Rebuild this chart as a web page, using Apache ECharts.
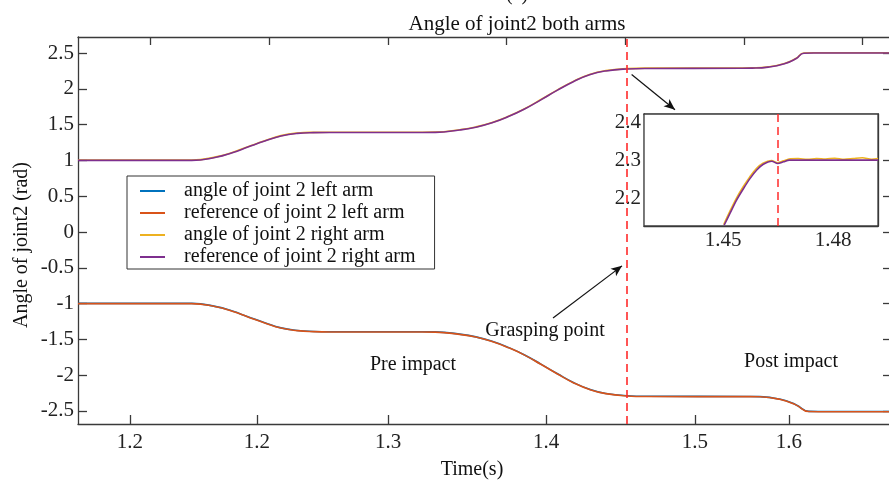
<!DOCTYPE html>
<html>
<head>
<meta charset="utf-8">
<script src="https://cdn.jsdelivr.net/npm/echarts@6/dist/echarts.min.js"></script>
<style>
  html, body { margin: 0; padding: 0; background: #fff; }
  #main { width: 889px; height: 484px; }
</style>
</head>
<body>
<div id="main"></div>
<script>
// ---- data ----
var seriesNames = ['angle of joint 2 left arm', 'reference of joint 2 left arm',
                   'angle of joint 2 right arm', 'reference of joint 2 right arm'];

var rightTime  = [1.15, 1.212, 1.22, 1.235, 1.245, 1.255, 1.265, 1.275, 1.285, 1.295, 1.305, 1.362, 1.37, 1.385, 1.395, 1.405, 1.415,
                  1.425, 1.435, 1.445, 1.455, 1.465, 1.475, 1.488, 1.5, 1.558, 1.565, 1.575, 1.585, 1.592, 1.597, 1.603, 1.65];
var rightRef   = [1.0, 1.0, 1.0, 1.045, 1.108, 1.19, 1.27, 1.342, 1.378, 1.388, 1.39, 1.39, 1.392, 1.425, 1.464, 1.526, 1.612,
                  1.718, 1.846, 1.978, 2.10, 2.196, 2.25, 2.278, 2.285, 2.287, 2.289, 2.303, 2.35, 2.42, 2.497, 2.5, 2.5];
var rightAngle = [1.004, 1.004, 1.004, 1.049, 1.112, 1.194, 1.274, 1.346, 1.382, 1.392, 1.394, 1.394, 1.396, 1.429, 1.468, 1.53, 1.616,
                  1.722, 1.85, 1.982, 2.104, 2.2, 2.254, 2.282, 2.289, 2.291, 2.293, 2.307, 2.354, 2.424, 2.501, 2.504, 2.504];

var leftTime  = [1.15, 1.212, 1.22, 1.235, 1.245, 1.255, 1.265, 1.275, 1.285, 1.295, 1.305, 1.362, 1.37, 1.385, 1.395, 1.405, 1.415,
                 1.425, 1.435, 1.445, 1.455, 1.465, 1.475, 1.488, 1.5, 1.563, 1.57, 1.582, 1.592, 1.6, 1.606, 1.65];
var leftRef   = [-1.0, -1.0, -1.0, -1.045, -1.108, -1.19, -1.27, -1.342, -1.378, -1.392, -1.396, -1.396, -1.398, -1.43, -1.468, -1.53, -1.615,
                 -1.72, -1.848, -1.98, -2.105, -2.2, -2.258, -2.29, -2.298, -2.3, -2.302, -2.337, -2.415, -2.508, -2.51, -2.51];
var leftAngle = [-0.997, -0.997, -0.997, -1.042, -1.105, -1.187, -1.267, -1.339, -1.375, -1.389, -1.393, -1.393, -1.395, -1.427, -1.465, -1.527, -1.612,
                 -1.717, -1.845, -1.977, -2.102, -2.197, -2.255, -2.287, -2.295, -2.297, -2.299, -2.334, -2.412, -2.505, -2.507, -2.507];

// zoomed inset (right arm only)
var insetTime  = [1.4503, 1.4519, 1.4537, 1.4556, 1.4574, 1.4592, 1.461, 1.4633, 1.4649, 1.4665, 1.4681, 1.4923];
var insetRef   = [2.129, 2.160, 2.195, 2.2255, 2.252, 2.274, 2.289, 2.297, 2.291, 2.2955, 2.30, 2.30];
var insetAngleTime = [1.4502, 1.4518, 1.4536, 1.4555, 1.4573, 1.4591, 1.4609, 1.4632, 1.4649, 1.4665, 1.468,
                      1.4705, 1.473, 1.4755, 1.478, 1.4805, 1.483, 1.4855, 1.488, 1.4905, 1.4923];
var insetAngle = [2.131, 2.164, 2.199, 2.23, 2.256, 2.278, 2.292, 2.299, 2.293, 2.298, 2.303,
                  2.304, 2.302, 2.304, 2.303, 2.305, 2.302, 2.304, 2.306, 2.302, 2.304];

// ticks
var bottomTicks  = [1.182, 1.2602, 1.3409, 1.4382, 1.5299, 1.5878];
var bottomLabels = ['1.2', '1.2', '1.3', '1.4', '1.5', '1.6'];
var topTicks     = [1.1943, 1.2676, 1.3409, 1.4135, 1.4868, 1.5601, 1.6328];
var yTicks       = [-2.5, -2, -1.5, -1, -0.5, 0, 0.5, 1, 1.5, 2, 2.5];
var insetXLabels = [1.45, 1.48];
var insetTopTicks = [1.4324, 1.4401, 1.4478, 1.4556, 1.4633, 1.471, 1.4788, 1.4865];
var insetYTicks  = [2.15, 2.2, 2.25, 2.3, 2.35, 2.4];
var insetYLabels = [2.2, 2.3, 2.4];

// annotations
var graspTime = 1.488;
var insetGraspTime = 1.4649;
var arrowToInset = [1.4909, 2.199, 1.5176, 1.709];
var arrowGrasp   = [1.4425, -1.20, 1.485, -0.473];

function pairs(xs, ys) {
    return xs.map(function (x, i) { return [x, ys[i]]; });
}

var chart = echarts.init(document.getElementById('main'));
var serif = '"Liberation Serif", "Times New Roman", serif';
var axisColor = '#3a3a3a';
var colors = ['#0072BD', '#D95319', '#EDB120', '#7E2F8E'];

function hiddenAxisLabel() { return { show: false }; }

var option = {
    animation: false,
    backgroundColor: '#fff',
    textStyle: { fontFamily: serif },
    title: {
        text: 'Angle of joint2 both arms',
        left: 517, top: 14, textAlign: 'center', padding: 0,
        textStyle: { fontFamily: serif, fontSize: 21, fontWeight: 'normal', color: '#111' }
    },
    legend: {
        orient: 'vertical', left: 127, top: 176,
        data: seriesNames,
        icon: 'rect', itemWidth: 25, itemHeight: 2, itemGap: 0,
        padding: [4, 19, 1, 13],
        borderColor: '#333', borderWidth: 1, backgroundColor: '#fff',
        textStyle: { fontFamily: serif, fontSize: 20, color: '#111', lineHeight: 22, padding: [0, 0, 0, 14] }
    },
    grid: [
        { left: 78, top: 37, right: -1, bottom: 60, outerBoundsMode: 'none' },
        { left: 644, top: 114, width: 234, height: 112, outerBoundsMode: 'none',
          show: true, borderColor: axisColor, borderWidth: 1.3, backgroundColor: '#fff', z: 5 }
    ],
    xAxis: [
        {
            gridIndex: 0, type: 'value', position: 'bottom', min: 1.15, max: 1.65,
            axisLine: { show: true, onZero: false, lineStyle: { color: axisColor, width: 1.3 } },
            axisTick: { show: true, inside: true, length: 9, customValues: bottomTicks, lineStyle: { color: axisColor, width: 1.3 } },
            axisLabel: {
                customValues: bottomTicks, margin: 8, fontSize: 21, fontFamily: serif, color: '#222',
                formatter: function (v) {
                    var best = 0;
                    for (var i = 1; i < bottomTicks.length; i++) {
                        if (Math.abs(bottomTicks[i] - v) < Math.abs(bottomTicks[best] - v)) best = i;
                    }
                    return bottomLabels[best];
                }
            },
            splitLine: { show: false }
        },
        {
            gridIndex: 0, type: 'value', position: 'top', min: 1.15, max: 1.65,
            axisLine: { show: true, onZero: false, lineStyle: { color: axisColor, width: 1.3 } },
            axisTick: { show: true, inside: true, length: 8, customValues: topTicks, lineStyle: { color: axisColor, width: 1.3 } },
            axisLabel: hiddenAxisLabel(),
            splitLine: { show: false }
        },
        {
            gridIndex: 1, type: 'value', position: 'bottom', min: 1.42845, max: 1.49227,
            axisLine: { show: true, onZero: false, lineStyle: { color: axisColor, width: 1.3 } },
            axisTick: { show: false },
            axisLabel: {
                customValues: insetXLabels, margin: 4, fontSize: 21, fontFamily: serif, color: '#222',
                formatter: function (v) { return v.toFixed(2); }
            },
            splitLine: { show: false }
        },
        {
            gridIndex: 1, type: 'value', position: 'top', min: 1.42845, max: 1.49227,
            axisLine: { show: true, onZero: false, lineStyle: { color: axisColor, width: 1.3 } },
            axisTick: { show: true, inside: true, length: 5, customValues: insetTopTicks, lineStyle: { color: axisColor } },
            axisLabel: hiddenAxisLabel(),
            splitLine: { show: false }
        }
    ],
    yAxis: [
        {
            gridIndex: 0, type: 'value', position: 'left', min: -2.682, max: 2.724,
            axisLine: { show: true, onZero: false, lineStyle: { color: axisColor, width: 1.3 } },
            axisTick: { show: true, inside: true, length: 9, customValues: yTicks, lineStyle: { color: axisColor, width: 1.3 } },
            axisLabel: { customValues: yTicks, margin: 4, fontSize: 21, fontFamily: serif, color: '#222' },
            splitLine: { show: false }
        },
        {
            gridIndex: 0, type: 'value', position: 'right', min: -2.682, max: 2.724,
            axisLine: { show: true, onZero: false, lineStyle: { color: axisColor, width: 1.3 } },
            axisTick: { show: true, inside: true, length: 7, customValues: yTicks, lineStyle: { color: axisColor, width: 1.3 } },
            axisLabel: hiddenAxisLabel(),
            splitLine: { show: false }
        },
        {
            gridIndex: 1, type: 'value', position: 'left', min: 2.127, max: 2.421,
            axisLine: { show: true, onZero: false, lineStyle: { color: axisColor, width: 1.3 } },
            axisTick: { show: true, inside: true, length: 5, customValues: insetYTicks, lineStyle: { color: axisColor } },
            axisLabel: { customValues: insetYLabels, margin: 3, fontSize: 21, fontFamily: serif, color: '#222',
                         formatter: function (v) { return v.toFixed(1); } },
            splitLine: { show: false }
        },
        {
            gridIndex: 1, type: 'value', position: 'right', min: 2.127, max: 2.421,
            axisLine: { show: true, onZero: false, lineStyle: { color: axisColor, width: 1.3 } },
            axisTick: { show: true, inside: true, length: 5, customValues: insetYTicks, lineStyle: { color: axisColor } },
            axisLabel: hiddenAxisLabel(),
            splitLine: { show: false }
        }
    ],
    series: [
        {
            name: seriesNames[0], type: 'line', xAxisIndex: 0, yAxisIndex: 0,
            data: pairs(leftTime, leftAngle), showSymbol: false, smooth: 0.5,
            color: colors[0], lineStyle: { width: 1.6 }, emphasis: { disabled: true }
        },
        {
            name: seriesNames[1], type: 'line', xAxisIndex: 0, yAxisIndex: 0,
            data: pairs(leftTime, leftRef), showSymbol: false, smooth: 0.5,
            color: colors[1], lineStyle: { width: 1.6 }, emphasis: { disabled: true }
        },
        {
            name: seriesNames[2], type: 'line', xAxisIndex: 0, yAxisIndex: 0,
            data: pairs(rightTime, rightAngle), showSymbol: false, smooth: 0.5,
            color: colors[2], lineStyle: { width: 1.6 }, emphasis: { disabled: true }
        },
        {
            name: seriesNames[3], type: 'line', xAxisIndex: 0, yAxisIndex: 0,
            data: pairs(rightTime, rightRef), showSymbol: false, smooth: 0.5,
            color: colors[3], lineStyle: { width: 1.6 }, emphasis: { disabled: true },
            markLine: {
                silent: true, precision: 5, symbol: ['none', 'none'], label: { show: false }, animation: false,
                data: [
                    { xAxis: graspTime, lineStyle: { color: '#ff2b2b', type: [8, 5], width: 1.6 } },
                    [
                        { coord: [arrowToInset[0], arrowToInset[1]], symbol: 'none', lineStyle: { color: '#111', type: 'solid', width: 1.2 } },
                        { coord: [arrowToInset[2], arrowToInset[3]], symbol: 'arrow', symbolSize: [7, 11] }
                    ],
                    [
                        { coord: [arrowGrasp[0], arrowGrasp[1]], symbol: 'none', lineStyle: { color: '#111', type: 'solid', width: 1.2 } },
                        { coord: [arrowGrasp[2], arrowGrasp[3]], symbol: 'arrow', symbolSize: [7, 11] }
                    ]
                ]
            }
        },
        {
            name: 'inset angle', type: 'line', xAxisIndex: 2, yAxisIndex: 2, z: 6,
            data: pairs(insetAngleTime, insetAngle), showSymbol: false, smooth: 0.3,
            color: colors[2], lineStyle: { width: 1.6 }, emphasis: { disabled: true }
        },
        {
            name: 'inset reference', type: 'line', xAxisIndex: 2, yAxisIndex: 2, z: 6,
            data: pairs(insetTime, insetRef), showSymbol: false, smooth: 0.3,
            color: colors[3], lineStyle: { width: 1.6 }, emphasis: { disabled: true },
            markLine: {
                silent: true, precision: 5, symbol: ['none', 'none'], label: { show: false }, animation: false,
                data: [{ xAxis: insetGraspTime, lineStyle: { color: '#ff2b2b', type: [8, 5], width: 1.5 } }]
            }
        }
    ],
    graphic: [
        { type: 'text', x: 517, y: -5, style: { text: '(a)', fontSize: 20, fontFamily: serif, fill: '#111', align: 'center', verticalAlign: 'middle' } },
        { type: 'text', x: 22, y: 245, rotation: Math.PI / 2,
          style: { text: 'Angle of joint2 (rad)', fontSize: 20, fontFamily: serif, fill: '#111', align: 'center', verticalAlign: 'middle' } },
        { type: 'text', x: 472, y: 470, style: { text: 'Time(s)', fontSize: 20, fontFamily: serif, fill: '#111', align: 'center', verticalAlign: 'middle' } },
        { type: 'text', x: 545, y: 331, style: { text: 'Grasping point', fontSize: 20, fontFamily: serif, fill: '#111', align: 'center', verticalAlign: 'middle' } },
        { type: 'text', x: 413, y: 365, style: { text: 'Pre impact', fontSize: 20, fontFamily: serif, fill: '#111', align: 'center', verticalAlign: 'middle' } },
        { type: 'text', x: 791, y: 362, style: { text: 'Post impact', fontSize: 20, fontFamily: serif, fill: '#111', align: 'center', verticalAlign: 'middle' } }
    ]
};

chart.setOption(option);
</script>
</body>
</html>
